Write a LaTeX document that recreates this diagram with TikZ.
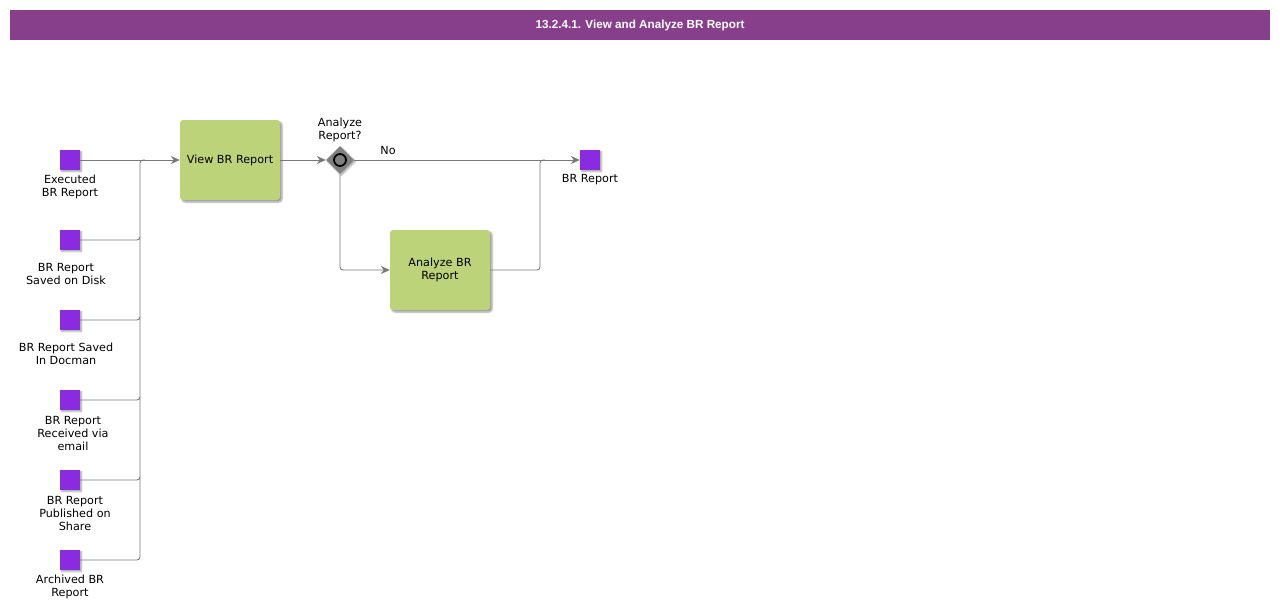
\documentclass[tikz,border=0pt]{standalone}
\usepackage{fontspec}
\usetikzlibrary{shapes.geometric,arrows.meta,shadows.blur}
\newfontfamily\labfont{DejaVu Sans}
\newfontfamily\titlefont{Liberation Sans}
\definecolor{headerc}{RGB}{135,63,139}
\definecolor{eventc}{RGB}{138,43,226}
\definecolor{taskc}{RGB}{189,211,122}
\definecolor{linec}{RGB}{120,120,120}
\definecolor{gatec}{RGB}{128,128,128}
\tikzset{
  lab/.style={font=\labfont\fontsize{11.2}{13}\selectfont, align=center, inner sep=0pt, text=black},
  evbox/.style={fill=eventc, minimum size=20pt, inner sep=0pt,
    blur shadow={shadow xshift=1.5pt, shadow yshift=-1.5pt, shadow blur steps=4, shadow opacity=35}},
  taskbox/.style={fill=taskc, minimum width=100pt, minimum height=80pt, rounded corners=3pt, inner sep=0pt,
    lab, blur shadow={shadow xshift=2pt, shadow yshift=-2pt, shadow blur steps=5, shadow opacity=40}},
  gatebox/.style={diamond, fill=gatec, minimum width=28pt, minimum height=28pt, inner sep=0pt,
    blur shadow={shadow xshift=1.5pt, shadow yshift=-1.5pt, shadow blur steps=4, shadow opacity=35}},
  conn/.style={draw=linec, line width=0.9pt, rounded corners=3pt},
  arr/.style={conn, -{Stealth[length=9pt,width=8pt]}},
}
\begin{document}
\begin{tikzpicture}[x=1pt,y=-1pt]
\useasboundingbox (0,0) rectangle (1280,610);
\node[fill=headerc, minimum width=1260pt, minimum height=30pt, inner sep=0pt,
  text=white, font=\titlefont\bfseries\fontsize{11.7}{13}\selectfont] (title) at (640,25) {13.2.4.1. View and Analyze BR Report};

% events
\node[evbox] (e1) at (70,160) {};
\node[evbox] (e2) at (70,240) {};
\node[evbox] (e3) at (70,320) {};
\node[evbox] (e4) at (70,400) {};
\node[evbox] (e5) at (70,480) {};
\node[evbox] (e6) at (70,560) {};
\node[evbox] (end) at (590,160) {};

\node[lab] (l1) at (70,186.5) {Executed\\BR Report};
\node[lab] (l2) at (66,273.5) {BR Report\\Saved on Disk};
\node[lab] (l3) at (66,353.5) {BR Report Saved\\In Docman};
\node[lab] (l4) at (73,433) {BR Report\\Received via\\email};
\node[lab] (l5) at (75,513) {BR Report\\Published on\\Share};
\node[lab] (l6) at (70,586.5) {Archived BR\\Report};
\node[lab] (lend) at (590,180) {BR Report};

% tasks
\node[taskbox] (view) at (230,160) {View BR Report};
\node[taskbox] (anal) at (440,270) {Analyze BR\\Report};

% gateway
\node[gatebox] (gw) at (340,160) {};
\draw[black, line width=1.8pt, fill=gatec] (gw.center) circle (6pt);
\node[lab] (lgw) at (340,129.5) {Analyze\\Report?};

\coordinate (j1) at (140,160);
\coordinate (j2) at (540,160);

% connectors
\draw[conn] (e6.east) -| (j1) -- ([xshift=5pt]j1);
\draw[conn] (e2.east) -| ([yshift=3pt]e2.east -| j1);
\draw[conn] (e3.east) -| ([yshift=3pt]e3.east -| j1);
\draw[conn] (e4.east) -| ([yshift=3pt]e4.east -| j1);
\draw[conn] (e5.east) -| ([yshift=3pt]e5.east -| j1);
\draw[arr] (e1.east) -- (view.west);
\draw[arr] (view.east) -- (gw.west);
\draw[conn] (anal.east) -| (j2) -- ([xshift=5pt]j2);
\draw[arr] (gw.east) -- node[lab, pos=0.15, yshift=10pt] (lno) {No} (end.west);
\draw[arr] (gw.south) |- (anal.west);
\end{tikzpicture}
\end{document}
